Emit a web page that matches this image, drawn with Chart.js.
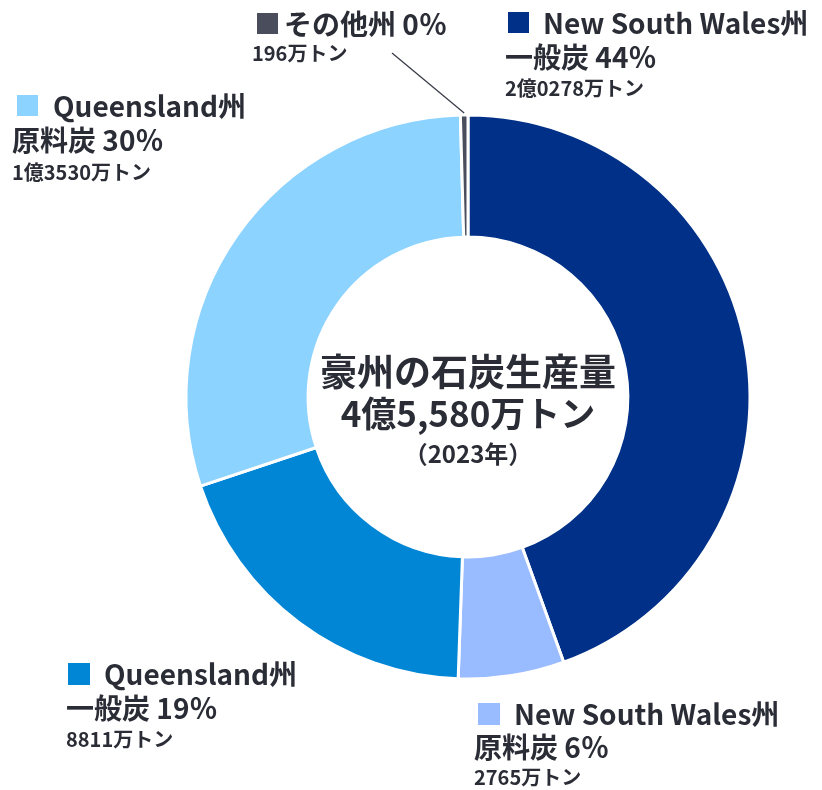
<!DOCTYPE html>
<html>
<head>
<meta charset="utf-8">
<script src="https://cdn.jsdelivr.net/npm/chart.js@4/dist/chart.umd.min.js"></script>
<style>
  html, body { margin: 0; padding: 0; background: #ffffff; }
  #wrap { position: relative; width: 822px; height: 790px; }
</style>
</head>
<body>
<div id="wrap"><canvas id="c" width="822" height="790"></canvas></div>
<script>
// ---- data (万トン, 2023) ----
const regions   = ['New South Wales州', 'New South Wales州', 'Queensland州', 'Queensland州', 'その他州'];
const coalTypes = ['一般炭', '原料炭', '一般炭', '原料炭', ''];
const volumes   = [20278, 2765, 8811, 13530, 196];
const colors    = ['#003087', '#99BBFF', '#0086D5', '#8DD3FF', '#4A4E5C'];
const centerTitle = '豪州の石炭生産量';
const yearLabel   = '（2023年）';

const total = volumes.reduce((a, b) => a + b, 0);
function fmtVol(v) {
  if (v >= 10000) return Math.floor(v / 10000) + '億' + String(v % 10000).padStart(4, '0') + '万トン';
  return v + '万トン';
}
function fmtTotal(v) {
  return Math.floor(v / 10000) + '億' + (v % 10000).toLocaleString('en-US') + '万トン';
}

// ---- label layout (positions only) ----
const layout = [
  { sq: [508, 12], sqs: 21, tx: 543, y1: 23, lx: 505, y2: 57, y3: 88, inline: false },
  { sq: [478, 703], sqs: 22, tx: 514, y1: 714, lx: 474, y2: 747, y3: 777, inline: false },
  { sq: [68, 663], sqs: 22, tx: 104, y1: 674, lx: 66, y2: 708, y3: 739, inline: false },
  { sq: [17, 95], sqs: 21, tx: 53, y1: 106, lx: 12, y2: 140, y3: 172, inline: false },
  { sq: [257, 13], sqs: 21, tx: 284, y1: 24, lx: 252, y2: null, y3: 53, inline: true, leader: [392, 53] }
];

const FONT = '"Noto Sans CJK JP", "Noto Sans", sans-serif';
const TEXT = '#2B2D36';

const labelPlugin = {
  id: 'labels',
  afterDraw(chart) {
    const ctx = chart.ctx;
    const meta = chart.getDatasetMeta(0);
    ctx.save();
    ctx.textBaseline = 'middle';
    ctx.textAlign = 'left';
    volumes.forEach((v, i) => {
      const L = layout[i];
      const pct = Math.round(v / total * 100) + '％';
      ctx.fillStyle = colors[i];
      ctx.fillRect(L.sq[0], L.sq[1], L.sqs, L.sqs);
      ctx.fillStyle = TEXT;
      ctx.font = 'bold 28px ' + FONT;
      if (L.inline) {
        ctx.fillText(regions[i] + ' ' + pct, L.tx, L.y1);
      } else {
        ctx.fillText(regions[i], L.tx, L.y1);
        ctx.fillText(coalTypes[i] + ' ' + pct, L.lx, L.y2);
      }
      ctx.font = 'bold 20px ' + FONT;
      ctx.fillText(fmtVol(v), L.lx, L.y3);
      if (L.leader) {
        const arc = meta.data[i];
        const mid = (arc.startAngle + arc.endAngle) / 2;
        const r = arc.outerRadius + 2;
        const ex = arc.x + Math.cos(mid) * r;
        const ey = arc.y + Math.sin(mid) * r;
        ctx.strokeStyle = '#3A3D48';
        ctx.lineWidth = 1.3;
        ctx.beginPath();
        ctx.moveTo(L.leader[0], L.leader[1]);
        ctx.lineTo(ex, ey);
        ctx.stroke();
      }
    });
    // center text
    const a0 = meta.data[0];
    const cx = a0.x, cy = a0.y;
    ctx.textAlign = 'center';
    ctx.fillStyle = TEXT;
    ctx.font = 'bold 37px ' + FONT;
    ctx.fillText(centerTitle, cx, cy - 25);
    ctx.font = 'bold 35px ' + FONT;
    ctx.fillText(fmtTotal(total), cx, cy + 17);
    ctx.font = 'bold 24px ' + FONT;
    ctx.fillText(yearLabel, cx, cy + 57);
    ctx.restore();
  }
};

new Chart(document.getElementById('c'), {
  type: 'doughnut',
  data: {
    labels: regions.map((r, i) => r + ' ' + coalTypes[i]),
    datasets: [{
      data: volumes,
      backgroundColor: colors,
      borderColor: '#ffffff',
      borderWidth: 3,
      hoverOffset: 0
    }]
  },
  options: {
    responsive: false,
    animation: false,
    radius: 282,
    cutout: '56.7%',
    rotation: 0,
    layout: { padding: { left: 186, right: 72, top: 115, bottom: 111 } },
    plugins: { legend: { display: false }, tooltip: { enabled: false } }
  },
  plugins: [labelPlugin]
});
</script>
</body>
</html>
